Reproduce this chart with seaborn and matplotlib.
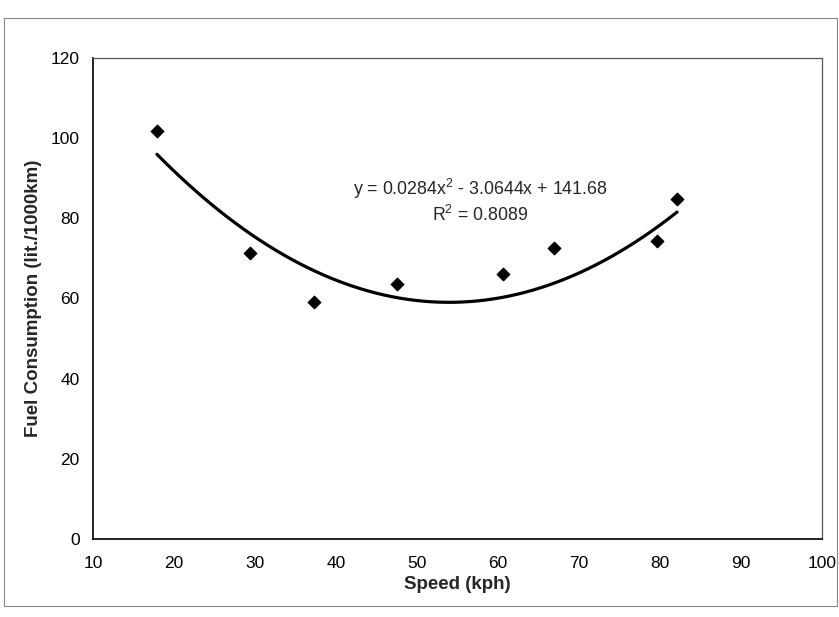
import numpy as np
import pandas as pd
import matplotlib
matplotlib.use("Agg")
import matplotlib.pyplot as plt
import seaborn as sns
from matplotlib.patches import Rectangle

speed = [17.9, 29.4, 37.3, 47.5, 60.6, 66.9, 79.6, 82.1]
fuel = [101.7, 71.3, 59.1, 63.6, 66.1, 72.6, 74.3, 84.8]
coef = [0.0284, -3.0644, 141.68]
x_ticks = [10, 20, 30, 40, 50, 60, 70, 80, 90, 100]
y_ticks = [0, 20, 40, 60, 80, 100, 120]
eq_text = "y = 0.0284x$^2$ - 3.0644x + 141.68\nR$^2$ = 0.8089"

sns.set_theme(style="white")
plt.rcParams['font.family'] = ['Liberation Sans', 'DejaVu Sans']
plt.rcParams['mathtext.fontset'] = 'custom'
plt.rcParams['mathtext.rm'] = 'Liberation Sans'

fig = plt.figure(figsize=(8.39, 6.17), dpi=100)
fig.patch.set_facecolor("white")
ax = fig.add_axes([0.1108, 0.1264, 0.869, 0.780])

df = pd.DataFrame({"speed": speed, "fuel": fuel})
xs = np.linspace(min(speed), max(speed), 200)
fit = pd.DataFrame({"x": xs, "y": np.polyval(coef, xs)})

sns.lineplot(data=fit, x="x", y="y", ax=ax, color="black", linewidth=2.3)
sns.scatterplot(data=df, x="speed", y="fuel", ax=ax, marker="D", s=45,
                color="black", edgecolor="black", zorder=3)

ax.set_xlim(10, 100)
ax.set_ylim(0, 120)
ax.set_xticks(x_ticks)
ax.set_yticks(y_ticks)
ax.tick_params(direction="inout", length=7, width=1, labelsize=12.5,
               colors="black", pad=6)
ax.tick_params(axis="x", pad=9)
ax.set_xlabel("Speed (kph)", fontsize=13.5, fontweight="bold", labelpad=3)
ax.set_ylabel("Fuel Consumption (lit./1000km)", fontsize=13.5,
              fontweight="bold", labelpad=6)

for s in ["left", "bottom"]:
    ax.spines[s].set_color("black")
    ax.spines[s].set_linewidth(1.2)
for s in ["top", "right"]:
    ax.spines[s].set_color("#555555")
    ax.spines[s].set_linewidth(0.9)

ax.text(57.8, 84.2, eq_text, ha="center", va="center", fontsize=12.75,
        linespacing=1.25)

fig.patches.append(Rectangle((0.005, 0.018), 0.993, 0.953,
                             transform=fig.transFigure, fill=False,
                             edgecolor="#888888", linewidth=0.8))

fig.savefig("out.png", dpi=100, facecolor="white")
